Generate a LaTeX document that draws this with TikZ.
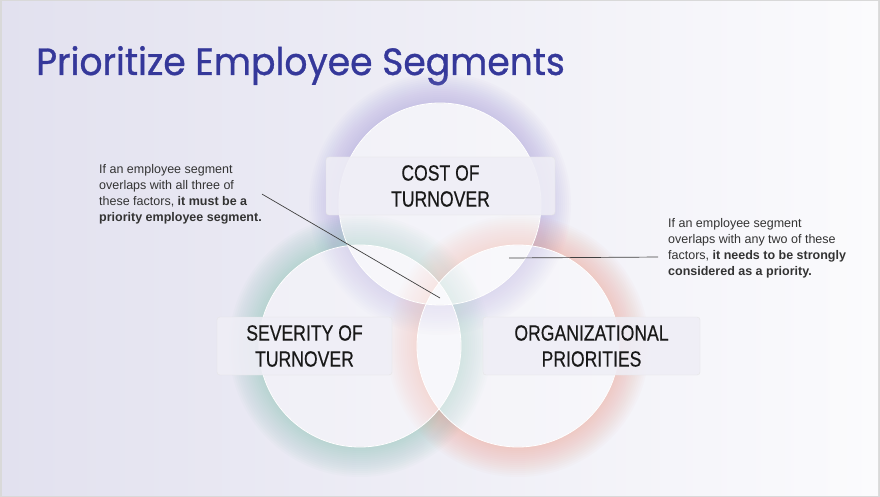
\documentclass[tikz,border=0pt]{standalone}
\usepackage{fontspec}
\setmainfont{Liberation Sans}
\newfontfamily\titlefont[FakeStretch=0.95, FakeBold=0.8]{Poppins}
\newfontfamily\labelfont[FakeStretch=0.8, FakeBold=0.4]{Liberation Sans}
\usetikzlibrary{positioning}
\definecolor{titleblue}{HTML}{35389A}
\definecolor{bgleft}{HTML}{E2E1EF}
\definecolor{bgright}{HTML}{FBFBFD}
\definecolor{boxfill}{HTML}{EFEEF6}
\definecolor{glowpurple}{HTML}{A598D8}
\definecolor{glowteal}{HTML}{86C2B4}
\definecolor{glowsalmon}{HTML}{EE9D8C}
\definecolor{notegray}{HTML}{333333}
\definecolor{framegray}{HTML}{D9D9D9}

\begin{document}
\begin{tikzpicture}[x=1pt, y=-1pt,
    factor/.style={draw=black!10, fill=boxfill, fill opacity=0.88, text opacity=1, rounded corners=3pt,
      minimum height=58pt, align=center, text=black!90, font=\labelfont\fontsize{22}{26}\selectfont},
    ring/.style={circle, draw=white, line width=0.8pt, fill=white, fill opacity=0.35, minimum size=202pt, inner sep=0pt},
    note/.style={font=\fontsize{12.5}{16}\selectfont, text=notegray, align=left, inner sep=2pt},
    leader/.style={draw=black!75, line width=0.7pt}]
    % background and frame
    \fill[framegray] (0,0) rectangle (880,497);
    \shade[left color=bgleft, right color=bgright] (2,2) rectangle (878,495);
    \useasboundingbox (0,0) rectangle (880,497);

    \node[font=\titlefont\fontsize{38}{44}\selectfont, text=titleblue, anchor=base west, inner sep=0pt] (title) at (36,75) {Prioritize Employee Segments};

    % soft glow round each circle
    \foreach \cx/\cy/\gc in {440/204/glowpurple, 360/346/glowteal, 518/346/glowsalmon} {
        \foreach \i [evaluate=\i as \rr using 101+2*\i] in {1,...,15} {
            \fill[\gc, opacity=0.035, even odd rule] (\cx,\cy) circle (101pt) (\cx,\cy) circle (\rr pt);
        }
    }

    \node[ring] (costring) at (440,204) {};
    \node[ring] (severityring) at (360,346) {};
    \node[ring] (orgring) at (518,346) {};

    \node[factor, minimum width=229pt] (cost) at (440.5,186) {COST OF\\TURNOVER};
    \node[factor, minimum width=175pt] (severity) at (304.5,346) {SEVERITY OF\\TURNOVER};
    \node[factor, minimum width=217pt] (org) at (591.5,346) {ORGANIZATIONAL\\PRIORITIES};

    \node[note, anchor=north west] (allnote) at (97,162) {If an employee segment\\overlaps with all three of\\these factors, \textbf{it must be a}\\\textbf{priority employee segment.}};
    \node[note, anchor=north west] (twonote) at (666,216) {If an employee segment\\overlaps with any two of these\\factors, \textbf{it needs to be strongly}\\\textbf{considered as a priority.}};

    \coordinate (allthree) at (440,298);
    \coordinate (anytwo) at (509,258);
    \draw[leader] ([shift={(-2,0)}]allnote.east) -- (allthree);
    \draw[leader] ([shift={(-8,9)}]twonote.west) -- (anytwo);
\end{tikzpicture}
\end{document}
